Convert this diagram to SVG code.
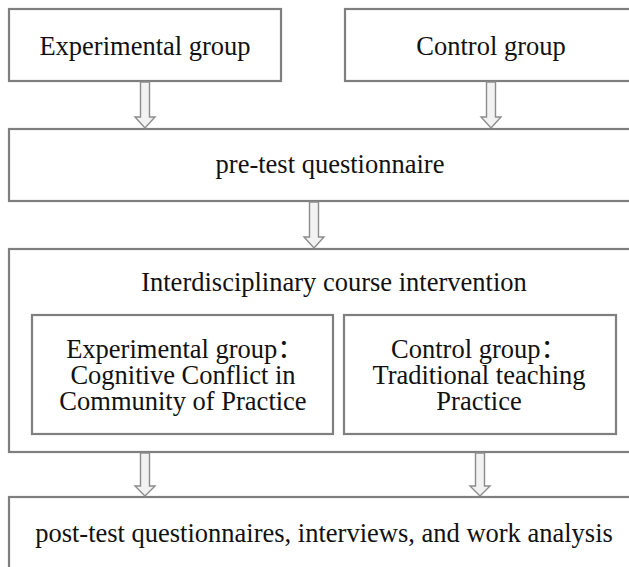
<svg xmlns="http://www.w3.org/2000/svg" width="629" height="567" viewBox="0 0 629 567">
<defs>
<style>
.box{fill:#ffffff;stroke:#7f7f7f;stroke-width:2.2}
.t{font-family:"Liberation Serif","Times New Roman","Noto Sans CJK SC",serif;font-size:26.5px;fill:#111;text-anchor:middle}
.arr{fill:#f2f2f2;stroke:#8c8c8c;stroke-width:1.4;stroke-linejoin:miter}
</style>
</defs>
<rect width="629" height="567" fill="#ffffff"/>
<g id="exp">
<rect class="box" x="9" y="9" width="272" height="72"/>
<text class="t" x="145" y="55">Experimental group</text>
</g>
<g id="ctrl">
<rect class="box" x="345" y="9" width="300" height="72"/>
<text class="t" x="491" y="55">Control group</text>
</g>
<g id="pretest">
<rect class="box" x="9" y="129" width="636" height="72"/>
<text class="t" x="330" y="173">pre-test questionnaire</text>
</g>
<g id="intervention">
<rect class="box" x="9" y="249" width="636" height="203"/>
<text class="t" x="334" y="291">Interdisciplinary course intervention</text>
</g>
<g id="expcourse">
<rect class="box" x="32" y="315" width="301" height="119"/>
<text class="t" x="185" y="358">Experimental group：</text>
<text class="t" x="183" y="384">Cognitive Conflict in</text>
<text class="t" x="183" y="410">Community of Practice</text>
</g>
<g id="ctrlcourse">
<rect class="box" x="344" y="315" width="272" height="119"/>
<text class="t" x="479" y="358">Control group：</text>
<text class="t" x="479" y="384">Traditional teaching</text>
<text class="t" x="479" y="410">Practice</text>
</g>
<g id="posttest">
<rect class="box" x="9" y="497" width="636" height="90"/>
<text class="t" x="324" y="542">post-test questionnaires, interviews, and work analysis</text>
</g>
<g id="connectors">
<path class="arr" d="M140.5 82 H149.5 V117 H155 L145 128 L135 117 H140.5 Z"/>
<path class="arr" d="M486.5 82 H495.5 V117 H501 L491 128 L481 117 H486.5 Z"/>
<path class="arr" d="M309.5 202 H318.5 V237 H324 L314 248 L304 237 H309.5 Z"/>
<path class="arr" d="M140.5 453 H149.5 V486 H155 L145 496 L135 486 H140.5 Z"/>
<path class="arr" d="M475.5 453 H484.5 V486 H490 L480 496 L470 486 H475.5 Z"/>
</g>
</svg>
